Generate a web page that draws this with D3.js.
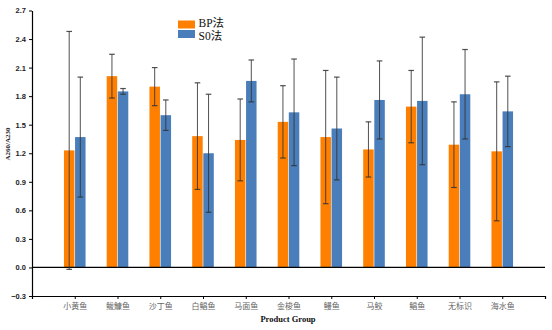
<!DOCTYPE html>
<html>
<head>
<meta charset="utf-8">
<script src="https://cdn.jsdelivr.net/npm/d3@7/dist/d3.min.js"></script>
<style>
body { margin: 0; background: #fff; }
svg { display: block; }
</style>
</head>
<body>
<div id="chart"></div>
<script>
var categories = ["小黄鱼", "鲅鱇鱼", "沙丁鱼", "白鲳鱼", "马面鱼", "金梭鱼", "鳗鱼", "马鲛", "鲳鱼", "无标识", "海水鱼"];
var bpValues = [1.23, 2.01, 1.90, 1.38, 1.34, 1.53, 1.37, 1.24, 1.69, 1.29, 1.22];
var bpErrors = [1.25, 0.23, 0.20, 0.56, 0.43, 0.38, 0.70, 0.29, 0.38, 0.45, 0.73];
var soValues = [1.37, 1.85, 1.60, 1.20, 1.96, 1.63, 1.46, 1.76, 1.75, 1.82, 1.64];
var soErrors = [0.63, 0.03, 0.16, 0.62, 0.22, 0.56, 0.54, 0.41, 0.67, 0.47, 0.37];
var yTickValues = [-0.3, 0, 0.3, 0.6, 0.9, 1.2, 1.5, 1.8, 2.1, 2.4, 2.7];
var seriesNames = ["BP法", "S0法"];

(function () {
	"use strict";
	var width = 552,
	height = 330,
	plotLeft = 32,
	plotRight = 545,
	plotTop = 10.5,
	plotBottom = 296;

	var colors = ["#ff8000", "#4a7ebb"];

	var svg = d3.select("#chart").append("svg")
		.attr("width", width)
		.attr("height", height);

	var xScale = d3.scalePoint().domain(categories).range([plotLeft, plotRight]).padding(1);
	var yScale = d3.scaleLinear().domain([-0.3, 2.7]).range([plotBottom, plotTop]);

	var barW = 10.5;

	var series = [
		{ name: seriesNames[0], values: bpValues, errors: bpErrors, offset: -barW - 0.3, color: colors[0] },
		{ name: seriesNames[1], values: soValues, errors: soErrors, offset: 0.3, color: colors[1] }
	];

	// bars
	series.forEach(function (s) {
		svg.append("g").selectAll("rect").data(categories)
			.enter()
			.append("rect")
			.attr("x", function (d) { return xScale(d) + s.offset; })
			.attr("y", function (d, i) { return yScale(s.values[i]); })
			.attr("width", barW)
			.attr("height", function (d, i) { return yScale(0) - yScale(s.values[i]); })
			.attr("fill", s.color);
	});

	// zero line
	svg.append("line")
		.attr("x1", plotLeft).attr("x2", plotRight)
		.attr("y1", yScale(0)).attr("y2", yScale(0))
		.attr("stroke", "#000").attr("stroke-width", 1.2);

	// error bars
	series.forEach(function (s) {
		var g = svg.append("g").attr("stroke", "#333").attr("stroke-opacity", 0.85);
		categories.forEach(function (c, i) {
			var cx = xScale(c) + s.offset + barW / 2,
			hi = yScale(s.values[i] + s.errors[i]),
			lo = yScale(s.values[i] - s.errors[i]);
			g.append("line").attr("x1", cx).attr("x2", cx).attr("y1", hi).attr("y2", lo).attr("stroke-width", 1);
			g.append("line").attr("x1", cx - 2.8).attr("x2", cx + 2.8).attr("y1", hi).attr("y2", hi).attr("stroke-width", 1.2);
			g.append("line").attr("x1", cx - 2.8).attr("x2", cx + 2.8).attr("y1", lo).attr("y2", lo).attr("stroke-width", 1.2);
		});
	});

	// y axis
	var yAxis = d3.axisLeft(yScale)
		.tickValues(yTickValues)
		.tickFormat(d3.format(".1f"))
		.tickSize(3)
		.tickSizeOuter(0);

	var yG = svg.append("g")
		.attr("transform", "translate(" + plotLeft + ",0)")
		.call(yAxis);
	yG.select(".domain").attr("stroke-width", 1.2);
	yG.selectAll("text")
		.attr("font-family", "Liberation Sans, Arial, sans-serif")
		.attr("font-weight", "bold")
		.attr("font-size", 7.5)
		.attr("fill", "#222");

	// x axis
	var xAxis = d3.axisBottom(xScale)
		.tickSize(3)
		.tickSizeOuter(3);

	var xG = svg.append("g")
		.attr("transform", "translate(0," + plotBottom + ")")
		.call(xAxis);
	xG.select(".domain").attr("stroke-width", 1.2);
	xG.selectAll("text")
		.attr("font-family", "Noto Sans CJK SC, sans-serif")
		.attr("font-size", 8)
		.attr("fill", "#666")
		.attr("dy", "0.9em");

	// axis titles
	svg.append("text")
		.attr("transform", "translate(10,144) rotate(-90)")
		.attr("text-anchor", "middle")
		.attr("font-family", "Liberation Serif, serif")
		.attr("font-weight", "bold")
		.attr("font-size", 7)
		.attr("fill", "#222")
		.text("A260/A230");

	svg.append("text")
		.attr("x", 288)
		.attr("y", 322)
		.attr("text-anchor", "middle")
		.attr("font-family", "Liberation Serif, serif")
		.attr("font-weight", "bold")
		.attr("font-size", 8.5)
		.attr("fill", "#111")
		.text("Product Group");

	// legend
	var legend = svg.append("g").attr("transform", "translate(178,20.5)");
	series.forEach(function (s, i) {
		legend.append("rect")
			.attr("x", 0).attr("y", i * 9.5)
			.attr("width", 17).attr("height", 8)
			.attr("fill", s.color);
		legend.append("text")
			.attr("x", 20.5).attr("y", 6.8 + i * 12.5)
			.attr("font-family", "Liberation Serif, Noto Sans CJK SC, serif")
			.attr("font-size", 11.5)
			.attr("fill", "#111")
			.text(s.name);
	});
})();
</script>
</body>
</html>
